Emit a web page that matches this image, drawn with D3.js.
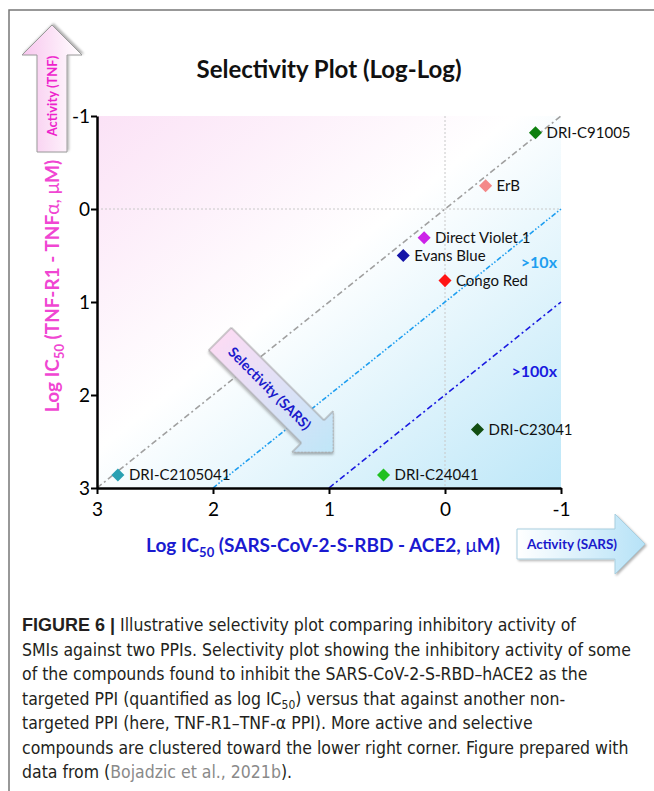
<!DOCTYPE html>
<html>
<head>
<meta charset="utf-8">
<script src="https://cdn.jsdelivr.net/npm/d3@7"></script>
<style>
  html, body { margin: 0; padding: 0; background: #fff; }
  svg { display: block; }
  .plot-text { font-family: Lato, "Open Sans", sans-serif; }
  .caption { font-family: "Liberation Sans Narrow", "DejaVu Sans Condensed", sans-serif; fill: #231f20; }
</style>
</head>
<body>
<svg id="chart" width="654" height="791"></svg>
<script>
// compounds: log IC50 against SARS (x) and TNF (y)
const compounds = ['DRI-C91005', 'ErB', 'Direct Violet 1', 'Evans Blue', 'Congo Red', 'DRI-C23041', 'DRI-C24041', 'DRI-C2105041'];
const logSars = [-0.78, -0.35, 0.18, 0.36, 0.0, -0.28, 0.53, 2.82];
const logTnf = [-0.82, -0.25, 0.31, 0.50, 0.77, 2.37, 2.86, 2.86];
const markerColors = ['#0e800e', '#f48888', '#cc22e8', '#1414a8', '#ff1414', '#124e12', '#20c020', '#2aa0b2'];

// selectivity reference lines: y = x + offset
const foldOffsets = [0, 1, 2];
const foldColors = ['#a0a0a0', '#1e9ef0', '#1a1ae0'];
const foldDash = ['6,3,2,3', '5,2,1.5,2,1.5,2', '6,3,2,3'];
const foldLabels = [null, '>10x', '>100x'];
const foldLabelY = [null, 0.57, 1.75];

const xTicks = [3, 2, 1, 0, -1];
const yTicks = [-1, 0, 1, 2, 3];

const captionLines = [
  'Illustrative selectivity plot comparing inhibitory activity of',
  'SMIs against two PPIs. Selectivity plot showing the inhibitory activity of some',
  'of the compounds found to inhibit the SARS-CoV-2-S-RBD\u2013hACE2 as the',
  'targeted PPI (quantified as log IC|50|) versus that against another non-',
  'targeted PPI (here, TNF-R1\u2013TNF-\u03b1 PPI). More active and selective',
  'compounds are clustered toward the lower right corner. Figure prepared with',
  'data from (#Bojadzic et al., 2021b#).'
];

const svg = d3.select('#chart');
const defs = svg.append('defs');

const bgGrad = defs.append('linearGradient').attr('id', 'bg')
  .attr('x1', '0').attr('y1', '0').attr('x2', '1').attr('y2', '1');
bgGrad.append('stop').attr('offset', '0%').attr('stop-color', '#fbe2f6');
bgGrad.append('stop').attr('offset', '45%').attr('stop-color', '#ffffff');
bgGrad.append('stop').attr('offset', '100%').attr('stop-color', '#bde7f8');

const upGrad = defs.append('linearGradient').attr('id', 'upArrow')
  .attr('x1', '0').attr('y1', '0').attr('x2', '0').attr('y2', '1');
upGrad.append('stop').attr('offset', '0%').attr('stop-color', '#f8c6ee');
upGrad.append('stop').attr('offset', '100%').attr('stop-color', '#ffffff');

const rightGrad = defs.append('linearGradient').attr('id', 'rightArrow')
  .attr('x1', '0').attr('y1', '0').attr('x2', '1').attr('y2', '0');
rightGrad.append('stop').attr('offset', '0%').attr('stop-color', '#ffffff');
rightGrad.append('stop').attr('offset', '100%').attr('stop-color', '#b6e2f7');

const diagGrad = defs.append('linearGradient').attr('id', 'diagArrow')
  .attr('x1', '0').attr('y1', '0').attr('x2', '1').attr('y2', '0');
diagGrad.append('stop').attr('offset', '0%').attr('stop-color', '#fbdcf4');
diagGrad.append('stop').attr('offset', '100%').attr('stop-color', '#bfe6f8');

const shadow = defs.append('filter').attr('id', 'shadow')
  .attr('x', '-20%').attr('y', '-20%').attr('width', '140%').attr('height', '140%');
shadow.append('feDropShadow').attr('dx', 1.5).attr('dy', 1.5)
  .attr('stdDeviation', 1.2).attr('flood-color', '#000').attr('flood-opacity', 0.3);

// frame
svg.append('path')
  .attr('d', 'M9,791 V10 H654')
  .attr('fill', 'none').attr('stroke', '#777').attr('stroke-width', 1.5);

const x = d3.scaleLinear().domain([3, -1]).range([97, 561]);
const y = d3.scaleLinear().domain([-1, 3]).range([116, 488]);

// background
svg.append('rect')
  .attr('x', x(3)).attr('y', y(-1))
  .attr('width', x(-1) - x(3)).attr('height', y(3) - y(-1))
  .attr('fill', 'url(#bg)');

// zero grid lines
svg.append('line')
  .attr('x1', x(0)).attr('x2', x(0)).attr('y1', y(-1)).attr('y2', y(3))
  .attr('stroke', '#c8c8c8').attr('stroke-width', 1).attr('stroke-dasharray', '2,2');
svg.append('line')
  .attr('x1', x(3)).attr('x2', x(-1)).attr('y1', y(0)).attr('y2', y(0))
  .attr('stroke', '#c8c8c8').attr('stroke-width', 1).attr('stroke-dasharray', '2,2');

// fold lines
const foldLine = d3.line().x(d => x(d[0])).y(d => y(d[1]));
foldOffsets.forEach((off, i) => {
  const xStart = 3 - off;
  svg.append('path')
    .attr('d', foldLine([[xStart, xStart + off], [-1, -1 + off]]))
    .attr('fill', 'none')
    .attr('stroke', foldColors[i])
    .attr('stroke-width', 1.6)
    .attr('stroke-dasharray', foldDash[i]);
  if (foldLabels[i]) {
    svg.append('text').attr('class', 'plot-text')
      .attr('x', x(-1) - 4).attr('y', y(foldLabelY[i]))
      .attr('text-anchor', 'end').attr('dy', '0.35em')
      .attr('font-size', 16).attr('font-weight', 'bold')
      .attr('fill', foldColors[i])
      .text(foldLabels[i]);
  }
});

// axes
const fmt = d => String(d);
const xAxis = svg.append('g')
  .attr('transform', `translate(0,${y(3)})`)
  .call(d3.axisBottom(x).tickValues(xTicks).tickFormat(fmt).tickSize(6).tickSizeOuter(0).tickPadding(9));
const yAxis = svg.append('g')
  .attr('transform', `translate(${x(3)},0)`)
  .call(d3.axisLeft(y).tickValues(yTicks).tickFormat(fmt).tickSize(6).tickSizeOuter(0).tickPadding(1));
[xAxis, yAxis].forEach(g => {
  g.select('.domain').attr('stroke', '#000').attr('stroke-width', 2.5);
  g.selectAll('.tick line').attr('stroke', '#000').attr('stroke-width', 2);
  g.selectAll('.tick text')
    .attr('class', 'plot-text')
    .attr('font-size', 19).attr('fill', '#000');
});

// markers
const diamond = d3.symbol().type(d3.symbolSquare).size(85);
const points = svg.append('g');
compounds.forEach((name, i) => {
  points.append('path')
    .attr('d', diamond())
    .attr('transform', `translate(${x(logSars[i])},${y(logTnf[i])}) rotate(45)`)
    .attr('fill', markerColors[i]);
  points.append('text').attr('class', 'plot-text')
    .attr('x', x(logSars[i]) + 11).attr('y', y(logTnf[i]))
    .attr('dy', '0.35em')
    .attr('font-size', 15).attr('fill', '#111')
    .text(name);
});

// title
svg.append('text').attr('class', 'plot-text')
  .attr('x', 329).attr('y', 78)
  .attr('text-anchor', 'middle')
  .attr('font-size', 24).attr('font-weight', 'bold').attr('fill', '#111')
  .text('Selectivity Plot (Log-Log)');

// axis titles
const xTitle = svg.append('text').attr('class', 'plot-text')
  .attr('x', 323).attr('y', 552).attr('text-anchor', 'middle')
  .attr('font-size', 19).attr('font-weight', 'bold').attr('fill', '#1a1ad0');
xTitle.append('tspan').text('Log IC');
xTitle.append('tspan').attr('font-size', 13).attr('dy', 5).text('50');
xTitle.append('tspan').attr('dy', -5).text(' (SARS-CoV-2-S-RBD - ACE2, ');
xTitle.append('tspan').attr('font-weight', 'normal').text('\u03bc');
xTitle.append('tspan').text('M)');

const yTitle = svg.append('text').attr('class', 'plot-text')
  .attr('transform', 'translate(59,286) rotate(-90)')
  .attr('text-anchor', 'middle')
  .attr('font-size', 19).attr('font-weight', 'bold').attr('fill', '#f046d2');
yTitle.append('tspan').text('Log IC');
yTitle.append('tspan').attr('font-size', 13).attr('dy', 5).text('50');
yTitle.append('tspan').attr('dy', -5).text(' (TNF-R1 - TNF');
yTitle.append('tspan').attr('font-weight', 'normal').text('\u03b1, \u03bc');
yTitle.append('tspan').text('M)');

// block arrows
function arrowPath(len, shaftHalf, headLen, headHalf) {
  const s = len - headLen;
  return `M0,${-shaftHalf} H${s} V${-headHalf} L${len},0 L${s},${headHalf} V${shaftHalf} H0 Z`;
}

// up arrow (TNF activity)
const up = svg.append('g').attr('transform', 'translate(52,152) rotate(-90)');
up.append('path').attr('d', arrowPath(127, 15, 30, 30))
  .attr('fill', 'url(#upArrow)').attr('stroke', '#9a9a9a').attr('stroke-width', 1)
  .attr('filter', 'url(#shadow)');
up.append('text').attr('class', 'plot-text')
  .attr('x', 56).attr('y', 0).attr('dy', '0.35em').attr('text-anchor', 'middle')
  .attr('font-size', 13).attr('font-weight', 'bold').attr('fill', '#ee22cc')
  .text('Activity (TNF)');

// right arrow (SARS activity)
const right = svg.append('g').attr('transform', 'translate(517,544)');
right.append('path').attr('d', arrowPath(128, 15, 30, 30))
  .attr('fill', 'url(#rightArrow)').attr('stroke', '#a8cfe0').attr('stroke-width', 1)
  .attr('filter', 'url(#shadow)');
right.append('text').attr('class', 'plot-text')
  .attr('x', 55).attr('y', 0).attr('dy', '0.35em').attr('text-anchor', 'middle')
  .attr('font-size', 13.5).attr('font-weight', 'bold').attr('fill', '#1a1acc')
  .text('Activity (SARS)');

// diagonal selectivity arrow
const diag = svg.append('g').attr('transform', 'translate(220,339) rotate(45)');
diag.append('path').attr('d', arrowPath(160, 16, 29, 29))
  .attr('fill', 'url(#diagArrow)').attr('stroke', '#9a9a9a').attr('stroke-width', 1)
  .attr('filter', 'url(#shadow)');
diag.append('text').attr('class', 'plot-text')
  .attr('x', 70).attr('y', 0).attr('dy', '0.35em').attr('text-anchor', 'middle')
  .attr('font-size', 14).attr('font-weight', 'bold').attr('fill', '#1a1acc')
  .text('Selectivity (SARS)');

// caption
const caption = svg.append('g').attr('class', 'caption');
captionLines.forEach((line, i) => {
  const t = caption.append('text').attr('class', 'caption')
    .attr('x', 22).attr('y', 631 + i * 24.5).attr('font-size', 17.5);
  if (i === 0) {
    t.append('tspan').attr('font-weight', 'bold')
      .attr('font-family', '"Liberation Sans", Arial, sans-serif').attr('font-size', 18)
      .text('FIGURE 6 | ');
  }
  // '|' marks a subscript, '#' marks the grey citation
  const parts = line.split(/([|#])/);
  let sub = false, cite = false, wasSub = false;
  parts.forEach(p => {
    if (p === '|') { sub = !sub; return; }
    if (p === '#') { cite = !cite; return; }
    if (!p) return;
    const sp = t.append('tspan').text(p);
    if (sub) { sp.attr('font-size', 12).attr('dy', 4); wasSub = true; }
    else if (wasSub) { sp.attr('dy', -4); wasSub = false; }
    if (cite) sp.attr('fill', '#8a8a8a');
  });
});
</script>
</body>
</html>
